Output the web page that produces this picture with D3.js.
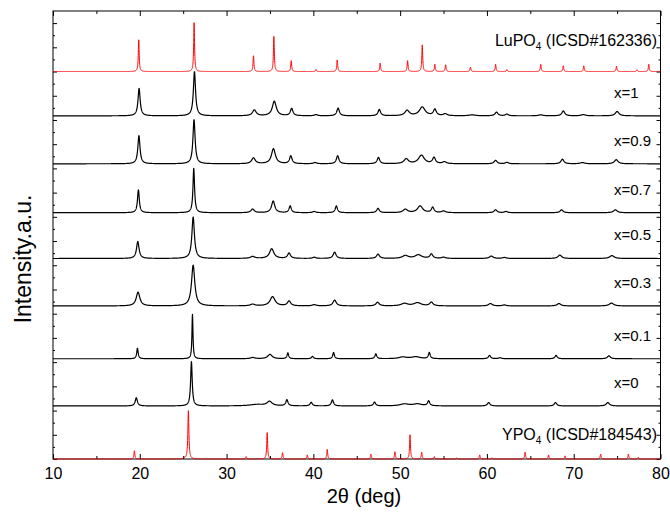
<!DOCTYPE html>
<html>
<head>
<meta charset="utf-8">
<script src="https://cdn.jsdelivr.net/npm/d3@7"></script>
<style>
  body { margin: 0; background: #fff; }
  text { font-family: "Liberation Sans", Arial, sans-serif; fill: #000; }
</style>
</head>
<body>
<div id="chart"></div>
<script>
// peak lists: [2theta, height, fwhm]
const lupo4Peaks = [[19.88,1.31,.12],[26.26,2.02,.12],[33.1,.65,.12],[35.45,1.45,.12],[37.45,.45,.12],[40.3,.08,.12],[42.75,.48,.12],[47.7,.35,.12],[50.86,.45,.12],[52.55,1.1,.12],[54.0,.3,.12],[55.24,.28,.12],[58.1,.18,.12],[61.0,.3,.12],[62.3,.08,.12],[66.2,.3,.12],[68.8,.24,.12],[71.16,.24,.12],[74.93,.22,.12],[77.3,.07,.12],[78.65,.3,.12]]
const x1Peaks = [[19.92,1.13,.3],[26.3,1.82,.3],[33.2,.24,.5],[35.5,.6,.55],[37.5,.3,.35],[40.3,.05,.4],[42.85,.32,.35],[47.6,.26,.35],[50.8,.22,.6],[52.55,.36,.8],[54.0,.26,.4],[55.2,.08,.5],[58.3,.04,.8],[61.1,.15,.4],[62.3,.07,.4],[66.2,.04,.6],[68.8,.2,.4],[71.1,.05,.6],[75.0,.18,.5]]
const x09Peaks = [[19.9,1.16,.3],[26.25,1.82,.3],[33.1,.24,.5],[35.4,.62,.55],[37.4,.32,.35],[40.2,.05,.4],[42.8,.33,.35],[47.5,.26,.35],[50.7,.2,.6],[52.45,.35,.8],[53.9,.25,.4],[55.1,.08,.5],[61.0,.14,.4],[62.3,.06,.4],[68.7,.19,.4],[71.0,.05,.6],[74.9,.17,.5]]
const x07Peaks = [[19.84,.94,.25],[26.22,1.83,.22],[33.0,.15,.45],[35.37,.48,.45],[37.33,.28,.3],[40.1,.05,.4],[42.65,.28,.3],[47.45,.18,.35],[50.6,.14,.6],[52.3,.28,.7],[53.75,.22,.35],[55.0,.07,.5],[61.0,.12,.4],[62.2,.05,.4],[68.6,.12,.4],[74.8,.12,.5]]
const x05Peaks = [[19.77,.7,.35],[26.15,1.71,.35],[33.0,.08,.6],[35.2,.4,.6],[37.2,.22,.4],[40.1,.05,.4],[42.45,.26,.4],[47.45,.18,.4],[50.6,.12,.8],[52.1,.15,.9],[53.6,.18,.4],[55.0,.05,.5],[60.5,.1,.5],[62.0,.04,.5],[68.4,.14,.5],[74.4,.12,.6]]
const x03Peaks = [[19.8,.57,.5],[26.15,1.68,.45],[33.0,.07,.6],[35.3,.38,.7],[37.2,.2,.45],[40.1,.05,.5],[42.45,.24,.45],[47.4,.15,.45],[50.5,.1,.9],[52.0,.13,1.0],[53.6,.15,.45],[60.4,.1,.5],[62.0,.04,.5],[68.3,.1,.5],[74.35,.12,.6]]
const x01Peaks = [[19.73,.43,.2],[26.07,1.83,.14],[33.0,.05,.6],[35.0,.18,.6],[37.06,.24,.22],[39.9,.1,.25],[42.33,.26,.22],[47.2,.2,.25],[50.3,.07,1.0],[51.8,.08,1.2],[53.36,.25,.25],[60.3,.14,.3],[61.5,.04,.4],[67.97,.14,.3],[74.05,.12,.4]]
const x0Peaks = [[19.6,.34,.3],[25.95,1.83,.22],[33.5,.06,2],[34.95,.18,.7],[36.95,.25,.3],[39.75,.15,.3],[42.2,.25,.3],[47.05,.16,.3],[50.5,.08,1.2],[52.0,.08,1.2],[53.28,.2,.3],[60.2,.14,.35],[67.9,.14,.35],[73.93,.14,.45]]
const ypo4Peaks = [[19.38,.34,.12],[25.1,.05,.12],[25.6,2.0,.14],[32.26,.1,.12],[34.68,1.09,.12],[36.45,.26,.12],[39.3,.17,.12],[41.6,.4,.12],[46.63,.2,.12],[49.4,.3,.12],[51.14,1.0,.12],[52.48,.28,.12],[53.94,.1,.12],[56.5,.05,.12],[59.17,.17,.12],[60.6,.05,.12],[64.4,.28,.12],[67.1,.17,.12],[69.0,.13,.12],[73.1,.2,.12],[76.3,.2,.12],[77.45,.07,.12]]

const seriesNames = ["LuPO4", "x=1", "x=0.9", "x=0.7", "x=0.5", "x=0.3", "x=0.1", "x=0", "YPO4"]
const seriesOffsets = [16.0, 14.17, 12.19, 10.17, 8.28, 6.32, 4.14, 2.19, 0]
const seriesPeaks = [lupo4Peaks, x1Peaks, x09Peaks, x07Peaks, x05Peaks, x03Peaks, x01Peaks, x0Peaks, ypo4Peaks]
const seriesColors = ["#ff0000", "#000", "#000", "#000", "#000", "#000", "#000", "#000", "#ff0000"]

const xTicks = [10, 20, 30, 40, 50, 60, 70, 80]

const width = 670,
      height = 512,
      mLeft = 53, mRight = 660.5, mTop = 11, mBottom = 459

const x = d3.scaleLinear().domain([10, 80]).range([mLeft, mRight])
const y = d3.scaleLinear().domain([0, 18.5]).range([mBottom, mTop])

const svg = d3.select("#chart")
              .append("svg")
              .attr("width", width)
              .attr("height", height)

svg.append("rect").attr("width", width).attr("height", height).attr("fill", "#fff")

// build a profile from the peak list
function profile(peaks, offset) {
   const pts = []
   for (let t = 10; t <= 80.0001; t += 0.01) {
      let v = 0
      peaks.forEach(p => {
         const g = p[2] / 2
         const d = (t - p[0]) / g
         v += p[1] / (1 + d * d)
      })
      pts.push([t, offset + v])
   }
   return pts
}

// axes, ticks inward
const minorX = d3.range(15, 80, 10)
svg.append("g")
   .attr("transform", "translate(0," + mBottom + ")")
   .call(d3.axisBottom(x).tickValues(xTicks).tickSize(-5).tickPadding(9).tickFormat(d3.format("d")))
   .call(g => g.select(".domain").remove())
   .call(g => g.selectAll("text").attr("font-size", 16).attr("font-family", "Liberation Sans, Arial, sans-serif"))
svg.append("g")
   .attr("transform", "translate(0," + mBottom + ")")
   .call(d3.axisBottom(x).tickValues(minorX).tickSize(-3).tickFormat(""))
   .call(g => g.select(".domain").remove())
svg.append("g")
   .attr("transform", "translate(0," + mTop + ")")
   .call(d3.axisTop(x).tickValues(xTicks).tickSize(-5).tickFormat(""))
   .call(g => g.select(".domain").remove())
svg.append("g")
   .attr("transform", "translate(0," + mTop + ")")
   .call(d3.axisTop(x).tickValues(minorX).tickSize(-3).tickFormat(""))
   .call(g => g.select(".domain").remove())

const majorY = d3.range(0, 19, 1)
const minorY = d3.range(0.5, 18.5, 1)
;[[d3.axisLeft, mLeft], [d3.axisRight, mRight]].forEach(([ax, pos]) => {
   svg.append("g")
      .attr("transform", "translate(" + pos + ",0)")
      .call(ax(y).tickValues(majorY).tickSize(-4).tickFormat(""))
      .call(g => g.select(".domain").remove())
   svg.append("g")
      .attr("transform", "translate(" + pos + ",0)")
      .call(ax(y).tickValues(minorY).tickSize(-2).tickFormat(""))
      .call(g => g.select(".domain").remove())
})

svg.append("rect")
   .attr("x", mLeft).attr("y", mTop)
   .attr("width", mRight - mLeft).attr("height", mBottom - mTop)
   .attr("fill", "none").attr("stroke", "#000").attr("stroke-width", 1)

svg.append("clipPath").attr("id", "plot")
   .append("rect").attr("x", mLeft).attr("y", mTop - 2)
   .attr("width", mRight - mLeft).attr("height", mBottom - mTop + 3)

const line = d3.line()
               .x(d => x(d[0]))
               .y(d => y(d[1]))

svg.append("g")
   .attr("clip-path", "url(#plot)")
   .selectAll("path")
   .data(seriesNames)
   .enter()
   .append("path")
   .attr("d", (d, i) => line(profile(seriesPeaks[i], seriesOffsets[i])))
   .attr("fill", "none")
   .attr("stroke", (d, i) => seriesColors[i])
   .attr("stroke-width", (d, i) => seriesColors[i] == "#000" ? 1.2 : 1)
   .attr("stroke-linejoin", "round")

// curve labels
seriesNames.forEach((name, i) => {
   if (name.startsWith("x=")) {
      svg.append("text")
         .attr("x", 614)
         .attr("y", y(seriesOffsets[i]) - 18)
         .attr("font-size", 15)
         .text(name)
   }
})

function refLabel(ypos, formula, code) {
   const t = svg.append("text")
                .attr("x", 657)
                .attr("y", ypos)
                .attr("text-anchor", "end")
                .attr("font-size", 16)
   t.append("tspan").text(formula)
   t.append("tspan").attr("font-size", 10).attr("dy", 4).text("4")
   t.append("tspan").attr("dy", -4).text(" (" + code + ")")
}
refLabel(y(seriesOffsets[0]) - 26, "LuPO", "ICSD#162336")
refLabel(y(seriesOffsets[8]) - 19, "YPO", "ICSD#184543")

// axis titles
svg.append("text")
   .attr("x", 364)
   .attr("y", 503)
   .attr("text-anchor", "middle")
   .attr("font-size", 20)
   .text("2θ (deg)")

svg.append("text")
   .attr("transform", "translate(31,259) rotate(-90)")
   .attr("text-anchor", "middle")
   .attr("font-size", 23)
   .text("Intensity.a.u.")
</script>
</body>
</html>
